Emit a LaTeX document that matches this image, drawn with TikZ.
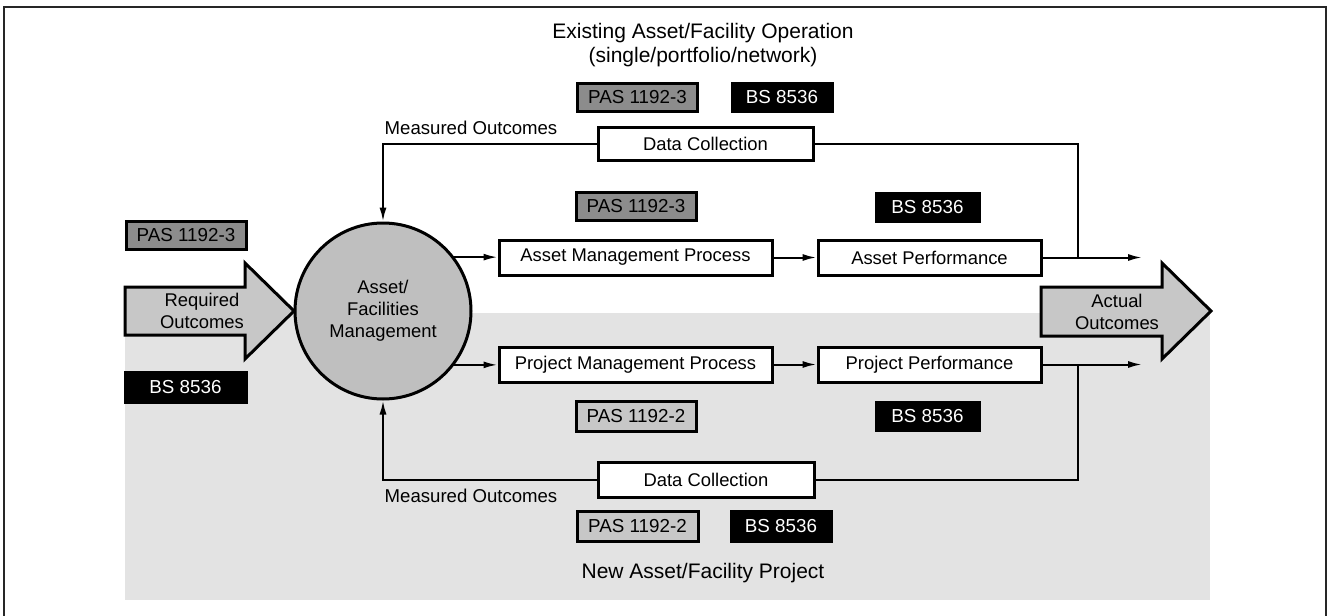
\documentclass[tikz,border=0pt]{standalone}
\usepackage{fontspec}
\setmainfont{Liberation Sans}
\usetikzlibrary{arrows.meta}
\definecolor{bggray}{gray}{0.89}
\definecolor{fatgray}{gray}{0.78}
\definecolor{circgray}{gray}{0.75}
\definecolor{darktag}{gray}{0.55}
\definecolor{lighttag}{gray}{0.78}
\begin{document}
\begin{tikzpicture}[x=0.5pt,y=-0.5pt,font=\fontsize{9.2}{11}\selectfont,
    proc/.style={draw,line width=1.5pt,fill=white,minimum height=17.5pt,inner sep=0pt},
    tag/.style={draw,line width=1.5pt,minimum width=60pt,minimum height=14pt,inner sep=0pt,font=\fontsize{9.4}{11}\selectfont},
    pastag/.style={tag,fill=darktag},
    pas2tag/.style={tag,fill=lighttag},
    bstag/.style={tag,fill=black,text=white,minimum width=50pt},
    heading/.style={align=center,font=\fontsize{10.5}{12.2}\selectfont},
    conn/.style={line width=1pt},
    arr/.style={conn,-{Latex[length=7pt,width=3.5pt]}},
    fat/.style={draw,line width=1.5pt,fill=fatgray,line join=miter}]
    \useasboundingbox (0,0) rectangle (1329,616);
    % frame and project area
    \draw[line width=1pt,black!85] (4,7) rectangle (1326,630);
    \fill[bggray] (125,313) rectangle (1210,600);
    % headings
    \node[heading] (optitle) at (703,45) {Existing Asset/Facility Operation\\(single/portfolio/network)};
    \node[heading] (projtitle) at (703,573) {New Asset/Facility Project};
    % big arrows
    \draw[fat] (125,287) -- (245,287) -- (245,263) -- (294,311) -- (245,359) -- (245,335) -- (125,335) -- cycle;
    \node[align=center] (reqout) at (202,311) {Required\\Outcomes};
    \draw[fat] (1041,287) -- (1162,287) -- (1162,263) -- (1211,311) -- (1162,359) -- (1162,336) -- (1041,336) -- cycle;
    \node[align=center] (actout) at (1117,312) {Actual\\Outcomes};
    % centre
    \node[circle,draw,line width=1.5pt,fill=circgray,minimum size=88pt,align=center,inner sep=0pt] (circ) at (383,311) {Asset/\\Facilities\\Management};
    % processes
    \node[proc,minimum width=136.5pt] (amp) at (635.5,257.5) {Asset Management Process};
    \node[proc,minimum width=111.5pt] (ap) at (929.5,257.5) {Asset Performance};
    \node[proc,minimum width=136.5pt] (pmp) at (635.5,364.5) {Project Management Process};
    \node[proc,minimum width=111.5pt] (pp) at (929.5,364.5) {Project Performance};
    \node[proc,minimum width=107.5pt,minimum height=16.5pt] (dcop) at (705.5,143.5) {Data Collection};
    \node[proc,minimum width=108pt] (dcproj) at (706,479.5) {Data Collection};
    % standards
    \node[pastag] (pasA) at (637.5,97.5) {PAS 1192-3};
    \node[bstag] (bsA) at (782,97.5) {BS 8536};
    \node[pastag] (pasB) at (636,206) {PAS 1192-3};
    \node[bstag,minimum width=51.5pt] (bsB) at (927.5,207) {BS 8536};
    \node[pastag] (pasC) at (186,235) {PAS 1192-3};
    \node[bstag,minimum width=60.5pt,minimum height=15pt] (bsC) at (185.5,387.5) {BS 8536};
    \node[pas2tag,minimum height=15pt] (pasD) at (636,416.5) {PAS 1192-2};
    \node[bstag,minimum width=51.5pt] (bsD) at (927.5,416.5) {BS 8536};
    \node[pas2tag,minimum width=60.5pt,minimum height=15pt] (pasE) at (637.5,526.5) {PAS 1192-2};
    \node[bstag,minimum height=15pt] (bsE) at (781,526.5) {BS 8536};
    % feedback labels
    \node[font=\fontsize{9.3}{11}\selectfont] (measop) at (471,128) {Measured Outcomes};
    \node[font=\fontsize{9.3}{11}\selectfont] (measproj) at (471,496) {Measured Outcomes};
    \coordinate (outA) at (1142,257.5);
    \coordinate (outB) at (1142,364.5);
    \coordinate (joinA) at (1078,257.5);
    \coordinate (joinB) at (1078,364.5);
    % connectors
    \draw[arr] (circ.37) -- (circ.37 -| amp.west);
    \draw[arr] (circ.-37) -- (circ.-37 -| pmp.west);
    \draw[arr] (amp) -- (ap);
    \draw[arr] (pmp) -- (pp);
    \draw[arr] (ap) -- (outA);
    \draw[arr] (pp) -- (outB);
    \draw[conn] (dcop.east) -| (joinA);
    \draw[conn] (dcproj.east) -| (joinB);
    \draw[arr] (dcop.west) -| (circ.north);
    \draw[arr] (dcproj.west) -| (circ.south);
\end{tikzpicture}
\end{document}
